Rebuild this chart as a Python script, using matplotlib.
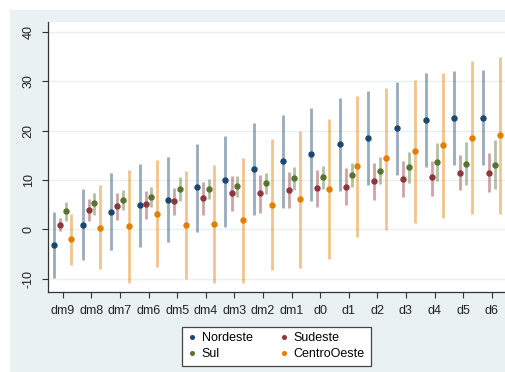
import matplotlib
matplotlib.use("Agg")
import matplotlib.pyplot as plt
import numpy as np
from matplotlib.patches import Rectangle
from matplotlib.lines import Line2D

plt.rcParams['font.family'] = ['Liberation Sans', 'DejaVu Sans']

periods = ["dm9", "dm8", "dm7", "dm6", "dm5", "dm4", "dm3", "dm2", "dm1",
           "d0", "d1", "d2", "d3", "d4", "d5", "d6"]

nordeste    = [-3.2, 0.9, 3.6, 4.9, 5.9, 8.5, 9.9, 12.3, 13.8, 15.2, 17.2, 18.6, 20.5, 22.2, 22.5, 22.5]
nordeste_lo = [-9.9, -6.2, -4.2, -3.6, -2.6, -0.5, 0.5, 2.8, 4.4, 5.7, 7.8, 9.0, 11.0, 12.7, 13.0, 13.0]
nordeste_hi = [3.5, 8.1, 11.5, 13.2, 14.7, 17.3, 19.0, 21.5, 23.2, 24.6, 26.6, 28.1, 29.9, 31.6, 32.1, 32.3]

sudeste    = [0.9, 4.0, 4.7, 5.1, 5.7, 6.3, 7.4, 7.4, 8.0, 8.4, 8.6, 9.7, 10.2, 10.5, 11.5, 11.5]
sudeste_lo = [-0.3, 1.6, 1.9, 2.1, 2.8, 3.0, 3.8, 3.4, 4.3, 4.6, 4.9, 5.9, 6.5, 6.7, 8.0, 7.6]
sudeste_hi = [2.2, 6.2, 7.4, 7.8, 8.4, 9.6, 10.7, 11.1, 11.7, 12.0, 12.4, 13.4, 13.8, 13.9, 15.0, 15.5]

sul    = [3.7, 5.3, 5.9, 6.6, 8.1, 8.2, 8.7, 9.4, 10.3, 10.5, 11.1, 11.9, 12.6, 13.6, 13.3, 13.1]
sul_lo = [1.6, 3.0, 4.0, 4.5, 5.7, 6.1, 6.6, 7.2, 8.0, 8.2, 8.6, 9.2, 9.4, 9.8, 9.0, 8.1]
sul_hi = [5.5, 7.4, 7.9, 8.6, 10.5, 10.2, 10.9, 11.5, 12.6, 12.8, 13.5, 14.6, 15.7, 17.4, 17.7, 18.0]

centro    = [-2.0, 0.3, 0.7, 3.2, 0.9, 1.1, 1.8, 4.9, 6.1, 8.2, 12.8, 14.4, 15.9, 17.1, 18.6, 19.2]
centro_lo = [-7.3, -8.1, -10.9, -7.6, -10.1, -10.8, -10.9, -8.2, -7.8, -6.0, -1.6, -0.1, 1.3, 2.3, 3.2, 3.2]
centro_hi = [3.2, 8.9, 12.1, 14.1, 11.9, 13.1, 14.4, 18.2, 19.9, 22.4, 27.1, 28.7, 30.3, 31.7, 34.0, 35.0]

series_names = ["Nordeste", "Sudeste", "Sul", "CentroOeste"]
colors = ["#1a476f", "#90353b", "#55752f", "#e37e00"]
offsets = [-0.31, -0.1, 0.1, 0.3]

W, H = 506, 372
fig = plt.figure(figsize=(W / 100, H / 100), dpi=100)
fig.patch.set_facecolor("white")
bg = Rectangle((10 / W, 0.5 / H), 1 - 10 / W, (H - 10.5) / H, transform=fig.transFigure,
               facecolor="#eaf1f3", edgecolor="none", zorder=-10)
fig.patches.append(bg)

ax = fig.add_axes([48.5 / W, (H - 292) / H, 1 - 48.5 / W, (292 - 22) / H])
ax.set_facecolor("white")

data = [(nordeste, nordeste_lo, nordeste_hi), (sudeste, sudeste_lo, sudeste_hi),
        (sul, sul_lo, sul_hi), (centro, centro_lo, centro_hi)]
x = np.arange(len(periods))
handles = []
for (est, lo, hi), c, off, name in zip(data, colors, offsets, series_names):
    xs = x + off
    ax.vlines(xs, lo, hi, colors=c, alpha=0.45, lw=2.0, zorder=2)
    ax.plot(xs, est, linestyle="none", marker="o", ms=3.6, color=c, mec=c, zorder=3)
    handles.append(Line2D([], [], linestyle="none", marker="o", ms=2.6, color=c))

ax.set_xlim(-0.5, 15.5)
ax.set_ylim(-12.7, 42)
ax.set_yticks([-10, 0, 10, 20, 30, 40])
ax.set_yticklabels(["-10", "0", "10", "20", "30", "40"], rotation=90, va="center", fontsize=9)
ax.set_xticks(x)
ax.set_xticklabels(periods, fontsize=9)
ax.grid(axis="y", color="#eaf1f3", lw=1.0)
ax.set_axisbelow(True)
for s in ["top", "right"]:
    ax.spines[s].set_visible(False)
for s in ["left", "bottom"]:
    ax.spines[s].set_color("#333333")
    ax.spines[s].set_linewidth(0.9)
ax.tick_params(axis="both", length=4, width=0.8, color="#333333", labelcolor="#222222")
ax.tick_params(axis="y", pad=6)
ax.tick_params(axis="x", pad=5)

# legend fills column-wise: order so rows read Nordeste/Sudeste, Sul/CentroOeste
order = [0, 2, 1, 3]
leg = fig.legend([handles[i] for i in order], [series_names[i] for i in order], ncol=2,
                 loc="upper center", bbox_to_anchor=(276.5 / W, 1 - 320.5 / H), fontsize=9,
                 frameon=True, fancybox=False, edgecolor="#444444", framealpha=1,
                 handlelength=0.6, handletextpad=0.5, columnspacing=2.2,
                 borderpad=0.45, labelspacing=0.3)
leg.get_frame().set_linewidth(0.9)

fig.savefig("out.png", dpi=100, facecolor=fig.get_facecolor())
